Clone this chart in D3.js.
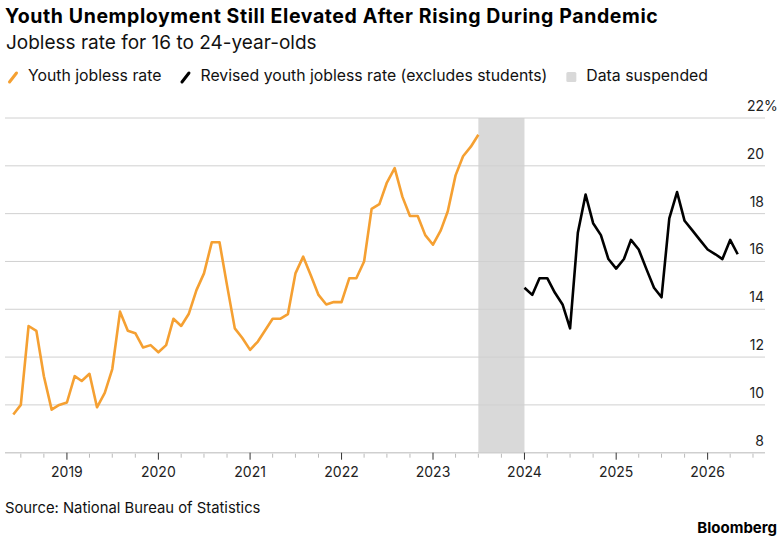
<!DOCTYPE html>
<html>
<head>
<meta charset="utf-8">
<script src="https://cdn.jsdelivr.net/npm/d3@7"></script>
<style>
  body { margin: 0; background: #fff; }
  svg { display: block; font-family: Inter, "Liberation Sans", Arial, sans-serif; }
  .grid line { stroke: #d0d0d0; stroke-width: 1; }
  .ylab { font-size: 14px; fill: #222; }
  .xlab { font-size: 14px; fill: #222; }
</style>
</head>
<body>
<svg width="784" height="545"></svg>
<script>
// monthly youth jobless rate (%), first value is Jun 2018
var youthStart = "2018-06";
var youthRate = [
  9.6, 10.0, 13.3, 13.1, 11.2, 9.8, 10.0,
  10.1, 11.2, 11.0, 11.3, 9.9, 10.5, 11.5, 13.9, 13.1, 13.0, 12.4, 12.5,
  12.2, 12.5, 13.6, 13.3, 13.8, 14.8, 15.5, 16.8, 16.8, 15.0, 13.2, 12.8,
  12.3, 12.65, 13.1, 13.6, 13.6, 13.8, 15.5, 16.2, 15.4, 14.6, 14.2, 14.3,
  14.3, 15.3, 15.3, 16.0, 18.2, 18.4, 19.3, 19.9, 18.7, 17.9, 17.9, 17.1,
  16.7, 17.3, 18.1, 19.6, 20.4, 20.8, 21.3
];

// revised series (excludes students), first value is Jan 2024
var revisedStart = "2024-01";
var revisedRate = [
  14.9, 14.6, 15.3, 15.3, 14.7, 14.2, 13.2, 17.2, 18.8, 17.6, 17.1, 16.1,
  15.7, 16.1, 16.9, 16.5, 15.7, 14.9, 14.5, 17.8, 18.9, 17.7, 17.3, 16.9,
  16.5, 16.3, 16.1, 16.9, 16.3
];

var suspended = ["2023-07", "2024-01"];
var yTicks = [8, 10, 12, 14, 16, 18, 20, 22];
var xYears = [2019, 2020, 2021, 2022, 2023, 2024, 2025, 2026];

var legendItems = [
  { label: "Youth jobless rate", color: "#f5a032", kind: "line" },
  { label: "Revised youth jobless rate (excludes students)", color: "#000", kind: "line" },
  { label: "Data suspended", color: "#d9d9d9", kind: "box" }
];

var parseMonth = d3.timeParse("%Y-%m");

function toSeries(start, values) {
  var t0 = parseMonth(start);
  return values.map(function (v, i) {
    return { date: d3.timeMonth.offset(t0, i), value: v };
  });
}

var youth = toSeries(youthStart, youthRate);
var revised = toSeries(revisedStart, revisedRate);

var svg = d3.select("svg"),
  width = +svg.attr("width"),
  height = +svg.attr("height");

var plotLeft = 5, plotRight = 765, plotTop = 118, plotBottom = 452.7;

var x = d3
  .scaleTime()
  .domain([parseMonth("2018-06"), parseMonth("2026-05")])
  .range([13.3, 737.7]);

var y = d3.scaleLinear().domain([8, 22]).range([plotBottom, plotTop]);

// titles
svg.append("text")
  .attr("x", 5).attr("y", 23)
  .style("font-size", "19.5px").style("font-weight", "bold")
  .style("letter-spacing", "0.6px").attr("fill", "#000")
  .text("Youth Unemployment Still Elevated After Rising During Pandemic");

svg.append("text")
  .attr("x", 6).attr("y", 49)
  .style("font-size", "19px").attr("fill", "#111")
  .text("Jobless rate for 16 to 24-year-olds");

// legend
var lg = svg.append("g").attr("class", "legend");
var lx = 8;
legendItems.forEach(function (d) {
  var g = lg.append("g").attr("transform", "translate(" + lx + ",0)");
  if (d.kind == "line") {
    g.append("line")
      .attr("x1", 1.5).attr("y1", 82).attr("x2", 8.5).attr("y2", 73)
      .attr("stroke", d.color).attr("stroke-width", 3).attr("stroke-linecap", "round");
  } else {
    g.append("rect")
      .attr("x", 0).attr("y", 72).attr("width", 10).attr("height", 10)
      .attr("rx", 1.5).attr("fill", d.color);
  }
  var t = g.append("text")
    .attr("x", 20).attr("y", 81)
    .style("font-size", "15.8px").attr("fill", "#111")
    .text(d.label);
  lx += 20 + t.node().getComputedTextLength() + 19;
});

// shaded suspended period
svg.append("rect")
  .attr("x", x(parseMonth(suspended[0])))
  .attr("y", plotTop)
  .attr("width", x(parseMonth(suspended[1])) - x(parseMonth(suspended[0])))
  .attr("height", plotBottom - plotTop)
  .attr("fill", "#d9d9d9");

// gridlines + y labels
var grid = svg.append("g").attr("class", "grid");
grid.selectAll("line")
  .data(yTicks.slice(1))
  .enter()
  .append("line")
  .attr("x1", plotLeft).attr("x2", plotRight)
  .attr("y1", function (d) { return y(d); })
  .attr("y2", function (d) { return y(d); });

svg.append("g")
  .selectAll("text")
  .data(yTicks)
  .enter()
  .append("text")
  .attr("class", "ylab")
  .attr("x", 764)
  .attr("y", function (d) { return y(d) - 7; })
  .attr("text-anchor", "end")
  .text(function (d) { return d; });

svg.append("text")
  .attr("class", "ylab")
  .attr("x", 764)
  .attr("y", y(22) - 7)
  .text("%");

// x axis
var axisY = plotBottom;
svg.append("line")
  .attr("x1", plotLeft).attr("x2", plotRight)
  .attr("y1", axisY).attr("y2", axisY)
  .attr("stroke", "#cfcfcf").attr("stroke-width", 1.5);

var quarters = d3.timeMonth.every(3).range(parseMonth("2018-07"), parseMonth("2026-08"))
  .filter(function (d) { return d.getMonth() != 0; });

svg.append("g")
  .selectAll("line")
  .data(quarters)
  .enter()
  .append("line")
  .attr("x1", function (d) { return x(d); })
  .attr("x2", function (d) { return x(d); })
  .attr("y1", axisY + 1).attr("y2", axisY + 5)
  .attr("stroke", "#bbb").attr("stroke-width", 1);

var years = svg.append("g");
years.selectAll("line")
  .data(xYears)
  .enter()
  .append("line")
  .attr("x1", function (d) { return x(new Date(d, 0, 1)); })
  .attr("x2", function (d) { return x(new Date(d, 0, 1)); })
  .attr("y1", axisY).attr("y2", axisY + 7)
  .attr("stroke", "#333").attr("stroke-width", 1);

years.selectAll("text")
  .data(xYears)
  .enter()
  .append("text")
  .attr("class", "xlab")
  .attr("x", function (d) { return x(new Date(d, 0, 1)); })
  .attr("y", 476.5)
  .attr("text-anchor", "middle")
  .text(function (d) { return d; });

// lines
var line = d3.line()
  .x(function (d) { return x(d.date); })
  .y(function (d) { return y(d.value); });

svg.append("path")
  .datum(youth)
  .attr("d", line)
  .attr("fill", "none")
  .attr("stroke", "#f5a032")
  .attr("stroke-width", 2.6)
  .attr("stroke-linejoin", "round");

svg.append("path")
  .datum(revised)
  .attr("d", line)
  .attr("fill", "none")
  .attr("stroke", "#000")
  .attr("stroke-width", 2.6)
  .attr("stroke-linejoin", "round");

// footer
svg.append("text")
  .attr("x", 5).attr("y", 513)
  .style("font-size", "14.8px").attr("fill", "#111")
  .text("Source: National Bureau of Statistics");

svg.append("text")
  .attr("x", 777).attr("y", 533)
  .attr("text-anchor", "end")
  .style("font-size", "15px").style("font-weight", "bold").attr("fill", "#000")
  .text("Bloomberg");
</script>
</body>
</html>
